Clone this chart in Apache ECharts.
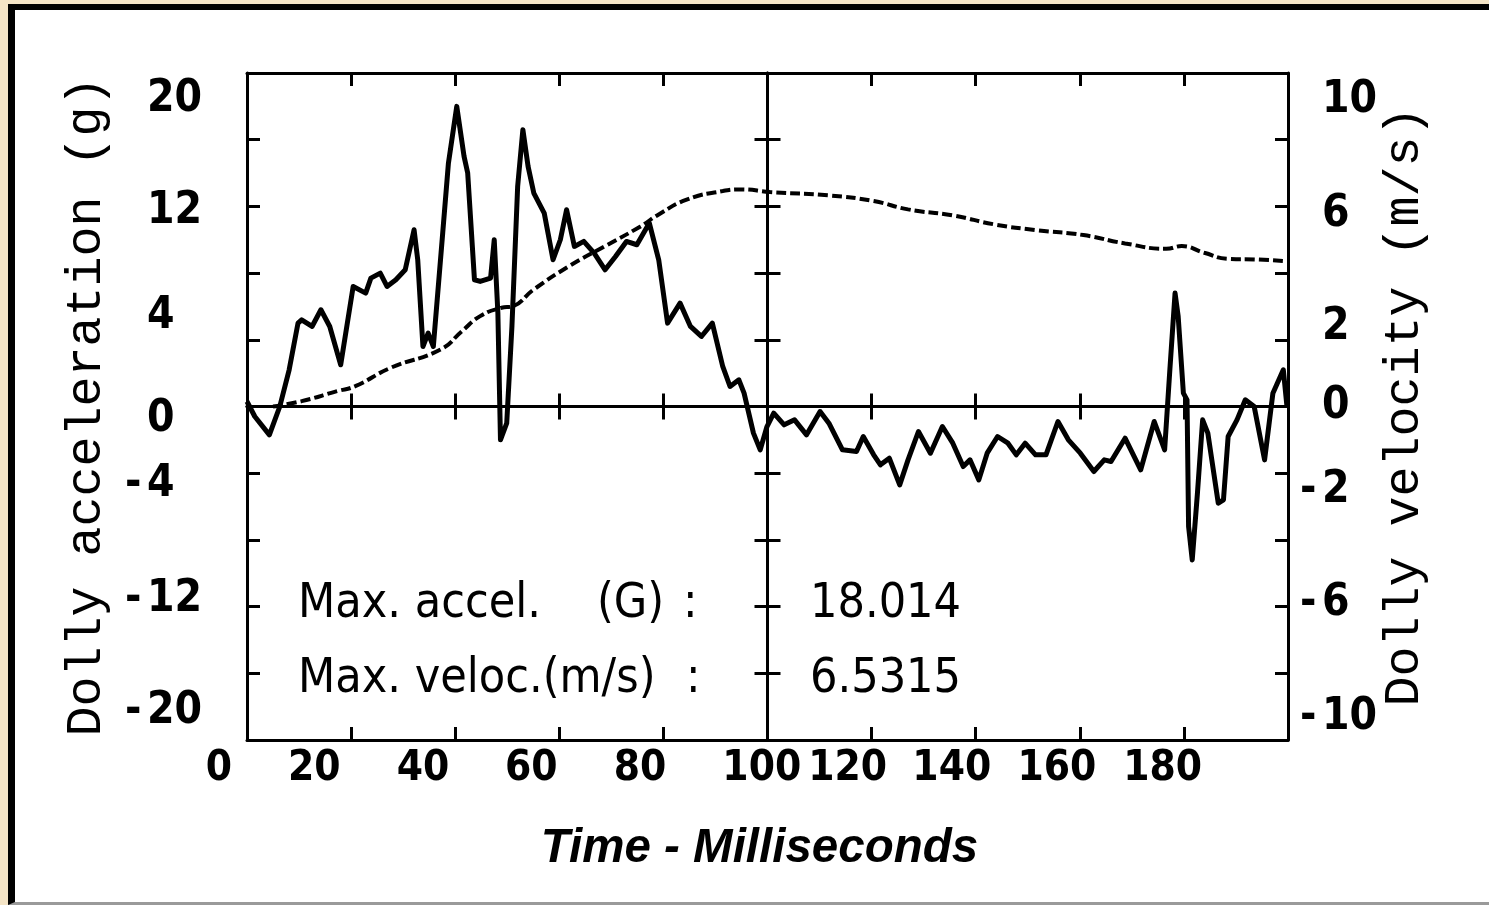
<!DOCTYPE html>
<html>
<head>
<meta charset="utf-8">
<script src="https://cdn.jsdelivr.net/npm/echarts@6/dist/echarts.min.js"></script>
<style>
  html, body { margin: 0; padding: 0; background: #f4e4c6; overflow: hidden; }
  #frame {
    position: absolute; left: 8px; top: 4px; width: 1481px; height: 901px;
    box-sizing: border-box; background: #fff;
    border-left: 7px solid #000; border-top: 6px solid #000; border-bottom: 3px solid #9a9a9a;
  }
  #canvas { width: 1474px; height: 892px; }
</style>
</head>
<body>
<div id="frame"><div id="canvas"></div></div>
<script>
// dolly acceleration (g) vs time (ms)
const accelTime = [0, 1.5, 4.3, 6.3, 8.1, 9.8, 10.5, 12.5, 14.2, 15.9, 18.0, 20.4, 22.8, 23.8, 25.6, 26.9, 28.6, 30.4, 32.1, 32.8,
    33.8, 34.8, 35.8, 37.6, 38.7, 40.3, 41.7, 42.4, 43.7, 44.8, 46.8, 47.5, 48.2, 48.7, 49.9, 50.9, 52.0, 53.0, 54.0, 55.1,
    57.1, 58.8, 60.2, 61.4, 62.9, 64.7, 66.7, 68.8, 70.8, 72.9, 74.9, 77.3, 79.1, 80.8, 83.2, 85.2, 87.3, 89.4, 91.4, 92.8,
    94.5, 95.5, 97.3, 98.6, 99.9, 101.2, 103.2, 105.2, 107.5, 110.1, 111.8, 114.4, 117.1, 118.4, 120.4, 121.7, 123.4, 125.4, 127.0, 129.0,
    131.3, 133.6, 135.6, 137.6, 138.9, 140.6, 142.2, 144.2, 146.2, 147.8, 149.5, 151.5, 153.5, 155.8, 157.8, 160.1, 162.7, 164.7, 166.0, 168.7,
    171.7, 174.3, 176.3, 177.3, 178.3, 178.9, 179.9, 180.6, 180.9, 181.6, 182.6, 183.6, 184.6, 186.6, 187.6, 188.5, 190.2, 191.8, 193.5, 195.5,
    197.1, 199.1, 199.8];
const accelValue = [0.3, -0.6, -1.7, 0, 2.2, 5.0, 5.2, 4.8, 5.8, 4.8, 2.5, 7.2, 6.8, 7.7, 8.0, 7.2, 7.6, 8.2, 10.6, 8.8,
    3.6, 4.4, 3.6, 10.4, 14.6, 18.0, 15.0, 14.0, 7.6, 7.5, 7.7, 10.0, 5.6, -2.0, -1.0, 4.8, 13.2, 16.6, 14.4, 12.8,
    11.6, 8.8, 10.0, 11.8, 9.6, 9.9, 9.2, 8.2, 9.0, 9.9, 9.7, 11.0, 8.8, 5.0, 6.2, 4.8, 4.2, 5.0, 2.4, 1.2,
    1.6, 0.8, -1.6, -2.6, -1.2, -0.4, -1.1, -0.8, -1.7, -0.3, -1.0, -2.6, -2.7, -1.8, -2.9, -3.5, -3.1, -4.7, -3.2, -1.5,
    -2.8, -1.2, -2.2, -3.6, -3.2, -4.4, -2.8, -1.8, -2.2, -2.9, -2.2, -2.9, -2.9, -0.9, -2.0, -2.8, -3.9, -3.2, -3.3, -1.9,
    -3.8, -0.9, -2.6, 2.2, 6.8, 5.4, 0.8, 0.4, -7.2, -9.2, -5.2, -0.8, -1.6, -5.8, -5.6, -1.8, -0.8, 0.4, 0, -3.2,
    0.8, 2.2, 0];

// dolly velocity (m/s) vs time (ms)
const velTime = [5, 10.5, 17.3, 20.8, 27.6, 37.2, 41.3, 44.8, 48.9, 50.9, 55.1, 61.9, 68.8, 75.6, 79.1, 84.6, 91.4, 94.9,
    100.5, 111.8, 120.4, 127.0, 135.6, 143.6, 151.5, 160.7, 168.7, 176.6, 179.6, 183.9, 188.5, 193.8, 199.4];
const velValue = [0, 0.16, 0.46, 0.61, 1.16, 1.71, 2.26, 2.71, 2.96, 3.0, 3.51, 4.21, 4.81, 5.4, 5.76, 6.21, 6.46, 6.51,
    6.43, 6.33, 6.16, 5.91, 5.73, 5.46, 5.29, 5.14, 4.89, 4.73, 4.81, 4.61, 4.43, 4.41, 4.36];

// tick labels (the plotter printed them a little off their ticks)
const timeTickText = ['0', '20', '40', '60', '80', '100', '120', '140', '160', '180'];
const timeTickPos = [-5.4, 12.9, 33.8, 54.6, 75.5, 98.9, 115.4, 135.4, 155.6, 175.9];
const accelTickText = ['20', '12', '4', '0', '-4', '-12', '-20'];
const accelTickPos = [18.4, 11.7, 5.4, -0.8, -4.7, -11.6, -18.3];
const velTickText = ['10', '6', '2', '0', '-2', '-6', '-10'];
const velTickPos = [9.18, 5.76, 2.37, 0, -2.52, -5.9, -9.33];

const maxAccelText = '18.014';
const maxVelocText = '6.5315';

const plotFont = "'DejaVu Sans Condensed', 'Liberation Sans', sans-serif";
const nameFont = "'Liberation Mono', 'DejaVu Sans Mono', monospace";

function signedLabel(t) {
    const neg = t.charAt(0) == '-';
    return '{s|' + (neg ? '-' : ' ') + '}{d|' + (neg ? t.slice(1) : t) + '}';
}

function drawChart(canvas="canvas") {
    const myChart = echarts.init(document.getElementById(canvas));
    const black = '#000';
    const line = { show: true, onZero: false, lineStyle: { color: black, width: 3 } };
    const noLabel = { show: false };
    const noSplit = { show: false };
    const tick = (inside) => ({ show: true, inside: inside, length: 13, lineStyle: { color: black, width: 3 } });
    const digitRich = {
        s: { fontFamily: plotFont, fontWeight: 'bold', fontSize: 44, color: black, width: 22 },
        d: { fontFamily: plotFont, fontWeight: 'bold', fontSize: 44, color: black }
    };
    const noteFont = '48px ' + plotFont;

    const option = {
        animation: false,
        backgroundColor: '#fff',
        grid: [
            { left: 232, right: 201, top: 63, bottom: 162 },
            { left: 180, right: 201, top: 63, bottom: 162 }
        ],
        xAxis: [
            {   // bottom frame
                type: 'value', gridIndex: 0, position: 'bottom', min: 0, max: 200, interval: 20,
                axisLine: line, axisTick: tick(true), axisLabel: noLabel, splitLine: noSplit,
                name: 'Time - Milliseconds', nameLocation: 'middle', nameGap: 85,
                nameTextStyle: { fontFamily: "'Liberation Sans', Arial, sans-serif", fontSize: 47.5,
                    fontWeight: 'bold', fontStyle: 'italic', color: black, padding: [0, 16, 0, 0] }
            },
            {   // top frame
                type: 'value', gridIndex: 0, position: 'top', min: 0, max: 200, interval: 20,
                axisLine: line, axisTick: tick(true), axisLabel: noLabel, splitLine: noSplit
            },
            {   // zero line, ticks up
                type: 'value', gridIndex: 0, position: 'bottom', min: 0, max: 200, interval: 20,
                axisLine: { show: true, onZero: true, onZeroAxisIndex: 0, lineStyle: { color: black, width: 3 } },
                axisTick: tick(true), axisLabel: noLabel, splitLine: noSplit
            },
            {   // zero line, ticks down
                type: 'value', gridIndex: 0, position: 'bottom', min: 0, max: 200, interval: 20,
                axisLine: { show: true, onZero: true, onZeroAxisIndex: 0, lineStyle: { color: black, width: 3 } },
                axisTick: tick(false), axisLabel: noLabel, splitLine: noSplit
            },
            {   // helper: zero sits at t = 100 ms
                type: 'value', gridIndex: 0, min: -100, max: 100, show: false,
                axisLine: { onZero: false }, splitLine: noSplit
            },
            {   // time tick labels
                type: 'value', gridIndex: 1, position: 'bottom', min: -10, max: 200,
                axisLine: { show: false, onZero: false }, axisTick: { show: false }, splitLine: noSplit,
                axisLabel: {
                    show: true, customValues: timeTickPos, margin: 8,
                    fontFamily: plotFont, fontWeight: 'bold', fontSize: 42, color: black,
                    formatter: (v) => timeTickText[timeTickPos.indexOf(v)]
                }
            }
        ],
        yAxis: [
            {   // left frame, acceleration
                type: 'value', gridIndex: 0, position: 'left', min: -20, max: 20, interval: 4,
                axisLine: line, axisTick: tick(true), axisLabel: noLabel, splitLine: noSplit,
                name: 'Dolly acceleration (g)', nameLocation: 'middle', nameRotate: 90, nameGap: 135,
                nameTextStyle: { fontFamily: nameFont, fontSize: 50, color: black }
            },
            {   // right frame, velocity
                type: 'value', gridIndex: 0, position: 'right', min: -10, max: 10, interval: 2,
                axisLine: line, axisTick: tick(true), axisLabel: noLabel, splitLine: noSplit,
                name: 'Dolly velocity (m/s)', nameLocation: 'middle', nameRotate: 90, nameGap: 92,
                nameTextStyle: { fontFamily: nameFont, fontSize: 50, color: black }
            },
            {   // 100 ms line, ticks right
                type: 'value', gridIndex: 0, position: 'left', min: -20, max: 20, interval: 4,
                axisLine: { show: true, onZero: true, onZeroAxisIndex: 4, lineStyle: { color: black, width: 3 } },
                axisTick: tick(true), axisLabel: noLabel, splitLine: noSplit
            },
            {   // 100 ms line, ticks left
                type: 'value', gridIndex: 0, position: 'left', min: -20, max: 20, interval: 4,
                axisLine: { show: true, onZero: true, onZeroAxisIndex: 4, lineStyle: { color: black, width: 3 } },
                axisTick: tick(false), axisLabel: noLabel, splitLine: noSplit
            },
            {   // acceleration tick labels
                type: 'value', gridIndex: 0, position: 'left', min: -20, max: 20,
                axisLine: { show: false, onZero: false }, axisTick: { show: false }, splitLine: noSplit,
                axisLabel: {
                    show: true, customValues: accelTickPos, margin: 122, align: 'left',
                    formatter: (v) => signedLabel(accelTickText[accelTickPos.indexOf(v)]),
                    rich: digitRich
                }
            },
            {   // velocity tick labels
                type: 'value', gridIndex: 0, position: 'right', min: -10, max: 10,
                axisLine: { show: false, onZero: false }, axisTick: { show: false }, splitLine: noSplit,
                axisLabel: {
                    show: true, customValues: velTickPos, margin: 12, align: 'left',
                    formatter: (v) => signedLabel(velTickText[velTickPos.indexOf(v)]),
                    rich: digitRich
                }
            },
            { type: 'value', gridIndex: 1, show: false, min: -20, max: 20, axisLine: { onZero: false }, splitLine: noSplit }
        ],
        series: [
            {
                name: 'Acceleration', type: 'line', xAxisIndex: 0, yAxisIndex: 0,
                showSymbol: false, smooth: false,
                lineStyle: { color: black, width: 5, join: 'round' },
                data: accelTime.map((t, i) => [t, accelValue[i]])
            },
            {
                name: 'Velocity', type: 'line', xAxisIndex: 0, yAxisIndex: 1,
                showSymbol: false, smooth: true,
                lineStyle: { color: black, width: 4, type: [10, 4] },
                data: velTime.map((t, i) => [t, velValue[i]])
            }
        ],
        graphic: [
            { type: 'text', left: 283, top: 571, style: { text: 'Max. accel.', font: noteFont, fill: black } },
            { type: 'text', left: 582, top: 571, style: { text: '(G)', font: noteFont, fill: black } },
            { type: 'text', left: 668, top: 571, style: { text: ':', font: noteFont, fill: black } },
            { type: 'text', left: 795, top: 571, style: { text: maxAccelText, font: noteFont, fill: black } },
            { type: 'text', left: 283, top: 646, style: { text: 'Max. veloc.(m/s)', font: noteFont, fill: black } },
            { type: 'text', left: 671, top: 646, style: { text: ':', font: noteFont, fill: black } },
            { type: 'text', left: 795, top: 646, style: { text: maxVelocText, font: noteFont, fill: black } }
        ]
    };
    option && myChart.setOption(option);
}

drawChart("canvas");
</script>
</body>
</html>
